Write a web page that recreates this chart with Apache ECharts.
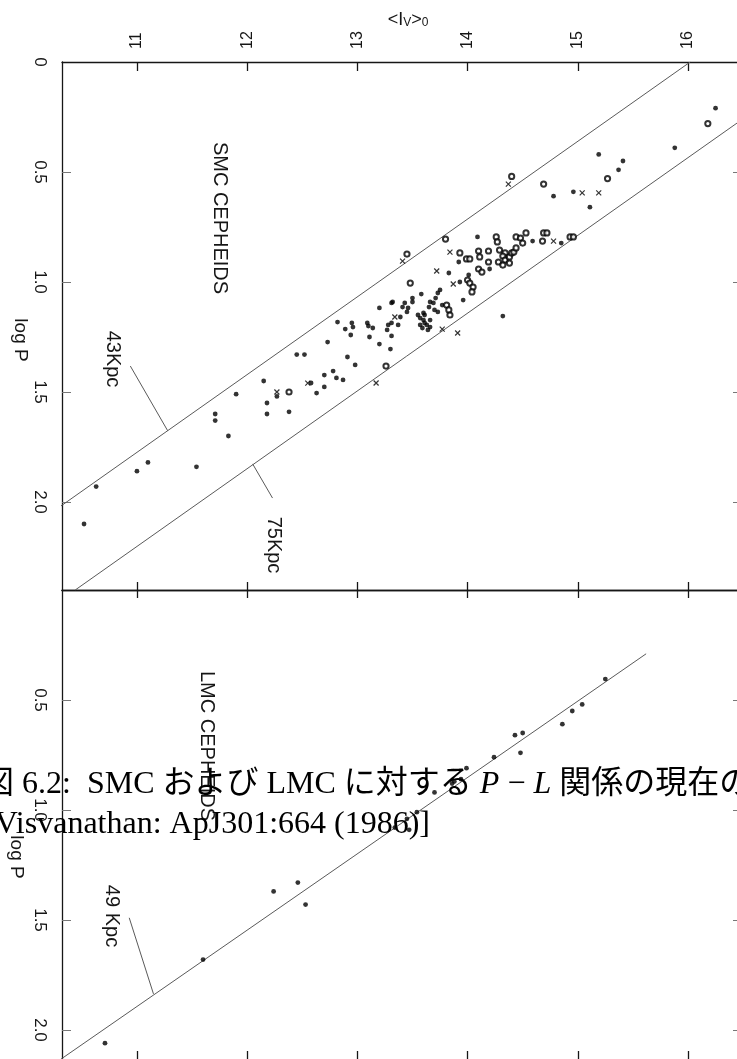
<!DOCTYPE html>
<html><head><meta charset="utf-8">
<script src="https://cdn.jsdelivr.net/npm/echarts@6/dist/echarts.min.js"></script>
<style>html,body{margin:0;padding:0;background:#fff;}#c{width:737px;height:1059px;}</style>
</head><body><div id="c"></div>
<script>
// ---- tick values ----
const xTicks = [11, 12, 13, 14, 15, 16];
const yTicksSMC = [0, 0.5, 1.0, 1.5, 2.0];
const yTicksLMC = [0.5, 1.0, 1.5, 2.0];
const yInnerTicks = [0.5, 1.0, 1.5, 2.0];

// ---- SMC Cepheids: [<I_V>_0, log P] ----
const smcFilled = [
  [10.52,2.10],[10.63,1.93],[11.00,1.86],[11.10,1.82],[11.54,1.84],[11.83,1.70],[11.71,1.60],[11.71,1.63],
  [11.90,1.51],[12.15,1.45],[12.38,1.59],[12.18,1.55],[12.18,1.60],[12.45,1.33],[12.52,1.33],[12.27,1.52],
  [16.25,0.21],[15.88,0.39],[15.19,0.42],[15.41,0.45],[15.37,0.49],[14.78,0.61],[14.96,0.59],[15.11,0.66],
  [14.09,0.795],[14.59,0.814],[14.85,0.823],[13.92,0.909],[14.20,0.941],[14.01,0.968],[13.83,0.959],[13.93,1.0],
  [13.96,1.082],[13.58,1.055],[13.50,1.073],[13.50,1.091],[13.75,1.036],[13.73,1.05],[13.71,1.073],[13.69,1.095],
  [13.66,1.091],[13.65,1.114],[13.70,1.127],[13.73,1.136],[13.77,1.105],
  [13.55,1.15],[13.57,1.164],[13.60,1.173],[13.61,1.186],[13.63,1.195],[13.59,1.209],[13.64,1.218],[13.66,1.173],
  [13.61,1.15],[13.57,1.195],[13.60,1.141],[13.66,1.205],
  [13.43,1.095],[13.41,1.114],[13.46,1.118],[13.45,1.136],[13.32,1.091],[13.31,1.186],[13.37,1.195],[14.32,1.155],
  [13.31,1.245],[13.28,1.195],[13.27,1.218],[13.30,1.305],[13.20,1.282],[13.14,1.209],[13.09,1.186],[13.10,1.20],
  [13.11,1.25],[12.95,1.186],[12.96,1.205],[12.94,1.241],[12.89,1.214],[12.82,1.182],[12.73,1.273],[12.91,1.341],
  [12.98,1.377],[12.78,1.405],[12.70,1.423],[12.81,1.436],[12.87,1.445],[12.70,1.477],[12.63,1.505],[12.58,1.459],
  [13.20,1.118],[13.31,1.095],[13.39,1.159]
];
const smcOpen = [
  [12.38,1.50],[16.18,0.28],[15.27,0.53],[14.69,0.555],[14.40,0.52],
  [13.80,0.805],[13.45,0.873],[14.26,0.795],[14.27,0.818],[14.44,0.795],[14.48,0.80],[14.50,0.823],[14.53,0.777],
  [14.69,0.777],[14.72,0.777],[14.68,0.814],[14.93,0.795],[14.96,0.795],[13.93,0.868],[13.99,0.895],[14.02,0.895],
  [14.10,0.859],[14.19,0.859],[14.11,0.886],[14.19,0.909],[14.29,0.855],[14.34,0.868],[14.32,0.882],[14.28,0.909],
  [14.34,0.90],[14.38,0.886],[14.40,0.868],[14.38,0.914],[14.32,0.923],[14.42,0.864],[14.44,0.845],[14.10,0.941],
  [14.13,0.955],[13.48,1.005],[14.00,0.991],[14.02,1.005],[14.05,1.023],[14.04,1.045],[13.81,1.105],[13.83,1.127],
  [13.84,1.15],[13.26,1.382]
];
const smcCross = [
  [12.27,1.50],[12.55,1.46],[15.04,0.595],[15.19,0.595],[14.37,0.555],[13.41,0.905],[14.78,0.814],[13.84,0.864],
  [13.72,0.95],[13.87,1.009],[13.77,1.214],[13.91,1.232],[13.17,1.459],[13.34,1.159]
];
// ---- LMC Cepheids ----
const lmcFilled = [
  [15.25,0.405],[15.04,0.52],[14.95,0.55],[14.86,0.61],[14.50,0.65],[14.43,0.66],[14.48,0.74],[14.24,0.76],
  [13.99,0.81],[13.94,0.86],[13.88,0.87],[13.86,0.88],[13.70,0.92],[13.54,1.01],[13.45,1.04],[13.47,1.09],
  [13.34,1.08],[12.53,1.43],[12.46,1.33],[12.24,1.37],[11.60,1.68],[10.71,2.06]
];
// ---- P-L relations (end points) and label leaders ----
const smcLine43 = [[16.02,0],[9.23,2.4]];
const smcLine75 = [[17.23,0],[10.44,2.4]];
const lmcLine49 = [[15.62,0.29],[10.26,2.15]];
const lead43 = [[10.94,1.382],[11.28,1.677]];
const lead75 = [[12.05,1.827],[12.23,1.982]];
const lead49 = [[10.93,1.49],[11.15,1.836]];

const sans = '"Liberation Sans", Arial, sans-serif';
const serif = '"Liberation Serif", "Noto Sans CJK JP", serif';
const ink = '#161616';
const lineCol = '#5a5a5a';

function xAx(grid, pos, opts) {
  return Object.assign({
    gridIndex: grid, type: 'value', position: pos, min: 10.32, max: 16.49,
    axisLine: {show: true, onZero: false, lineStyle: {color: ink, width: 1.3}},
    axisTick: {show: true, inside: true, length: 9, customValues: xTicks, lineStyle: {color: ink, width: 1.3}},
    axisLabel: {show: false},
    splitLine: {show: false}
  }, opts || {});
}
function yAx(grid, pos, max, opts) {
  return Object.assign({
    gridIndex: grid, type: 'value', position: pos, inverse: true, min: 0, max: max,
    axisLine: {show: true, onZero: false, lineStyle: {color: ink, width: 1.3}},
    axisTick: {show: true, inside: true, length: 9, customValues: yInnerTicks, lineStyle: {color: '#777', width: 1}},
    axisLabel: {show: false},
    splitLine: {show: false}
  }, opts || {});
}
const yFmt = v => (v === 0 ? '0' : v.toFixed(1));

function lineSeries(data, xi, yi) {
  return {type: 'line', data: data, xAxisIndex: xi, yAxisIndex: yi, symbol: 'none', clip: true,
    lineStyle: {color: lineCol, width: 1}, silent: true, z: 2};
}
function pts(data, xi, yi, kind) {
  const s = {type: 'scatter', data: data, xAxisIndex: xi, yAxisIndex: yi, silent: true, z: 3};
  if (kind === 'filled') { s.symbol = 'circle'; s.symbolSize = 4.8; s.itemStyle = {color: '#000'}; }
  if (kind === 'open') { s.symbol = 'emptyCircle'; s.symbolSize = 5.2; s.itemStyle = {color: '#000', borderColor: '#000', borderWidth: 1}; }
  if (kind === 'cross') { s.symbol = 'path://M0,0L10,10M10,0L0,10'; s.symbolSize = 5; s.itemStyle = {color: '#000', borderColor: '#000', borderWidth: 1.2}; }
  return s;
}
function rotText(text, x, y, size) {
  return {type: 'text', x: x, y: y, rotation: -Math.PI / 2, z: 10,
    style: {text: text, fontSize: size, fontFamily: sans, fill: ink,
      align: 'center', verticalAlign: 'middle', textAlign: 'center', textVerticalAlign: 'middle'}};
}

const option = {
  animation: false,
  backgroundColor: '#fff',
  grid: [
    {left: 62, top: 62, width: 680, height: 528, outerBoundsMode: 'none', containLabel: false},
    {left: 62, top: 590, width: 680, height: 473, outerBoundsMode: 'none', containLabel: false}
  ],
  xAxis: [
    xAx(0, 'top', {
      axisLabel: {show: true, customValues: xTicks, rotate: -90, margin: 13, fontSize: 16, fontFamily: sans, color: ink}
    }),
    xAx(0, 'bottom', {axisTick: {show: true, inside: true, length: 8, customValues: xTicks, lineStyle: {color: ink, width: 1.3}}}),
    xAx(1, 'top', {axisTick: {show: true, inside: true, length: 8, customValues: xTicks, lineStyle: {color: ink, width: 1.3}}}),
    xAx(1, 'bottom', {axisTick: {show: true, inside: true, length: 12, customValues: xTicks, lineStyle: {color: ink, width: 1.3}}})
  ],
  yAxis: [
    yAx(0, 'left', 2.4, {axisLabel: {show: true, customValues: yTicksSMC, rotate: -90, margin: 14, fontSize: 17, fontFamily: sans, color: ink, formatter: yFmt}}),
    yAx(0, 'right', 2.4),
    yAx(1, 'left', 2.15, {axisLabel: {show: true, customValues: yTicksLMC, rotate: -90, margin: 14, fontSize: 17, fontFamily: sans, color: ink, formatter: yFmt}}),
    yAx(1, 'right', 2.15)
  ],
  series: [
    lineSeries(smcLine43, 0, 0),
    lineSeries(smcLine75, 0, 0),
    lineSeries(lead43, 0, 0),
    lineSeries(lead75, 0, 0),
    pts(smcFilled, 0, 0, 'filled'),
    pts(smcOpen, 0, 0, 'open'),
    pts(smcCross, 0, 0, 'cross'),
    lineSeries(lmcLine49, 2, 2),
    lineSeries(lead49, 2, 2),
    pts(lmcFilled, 2, 2, 'filled')
  ],
  graphic: {elements: [
    {type: 'text', x: 408, y: 18, z: 10, style: {
      text: '{a|<I}{s|V}{a|>}{s|0}', fill: ink, fontSize: 18, fontFamily: sans, font: '18px ' + sans,
      align: 'center', verticalAlign: 'middle', textAlign: 'center', textVerticalAlign: 'middle',
      rich: {
        a: {font: '18px ' + sans, fontSize: 18, fontFamily: sans, fill: ink, lineHeight: 22, verticalAlign: 'bottom'},
        s: {font: '12px ' + sans, fontSize: 12, fontFamily: sans, fill: ink, lineHeight: 17, verticalAlign: 'bottom'}
      }
    }},
    rotText('SMC CEPHEIDS', 220, 218, 20),
    rotText('LMC CEPHEIDS', 207, 746, 20),
    rotText('43Kpc', 113, 359, 20),
    rotText('75Kpc', 274, 545, 20),
    rotText('49 Kpc', 112, 916, 20),
    rotText('log P', 20, 340, 19),
    rotText('log P', 16, 857, 19),
    {type: 'text', x: -18, y: 785, z: 20, style: {
      text: '図 6.2:  SMC および LMC に対する {i|P} − {i|L} 関係の現在の',
      fontSize: 32, fontFamily: serif, font: '32px ' + serif, fill: '#000',
      align: 'left', verticalAlign: 'middle', textAlign: 'left', textVerticalAlign: 'middle',
      rich: {i: {font: 'italic 32px ' + serif, fontStyle: 'italic', fontSize: 32, fontFamily: serif, fill: '#000'}}
    }},
    {type: 'text', x: -16, y: 825, z: 20, style: {
      text: '[Visvanathan: ApJ301:664 (1986)]',
      fontSize: 32, fontFamily: serif, font: '32px ' + serif, fill: '#000',
      align: 'left', verticalAlign: 'middle', textAlign: 'left', textVerticalAlign: 'middle'
    }}
  ]}
};
const chart = echarts.init(document.getElementById('c'));
chart.setOption(option);
</script>
</body></html>
